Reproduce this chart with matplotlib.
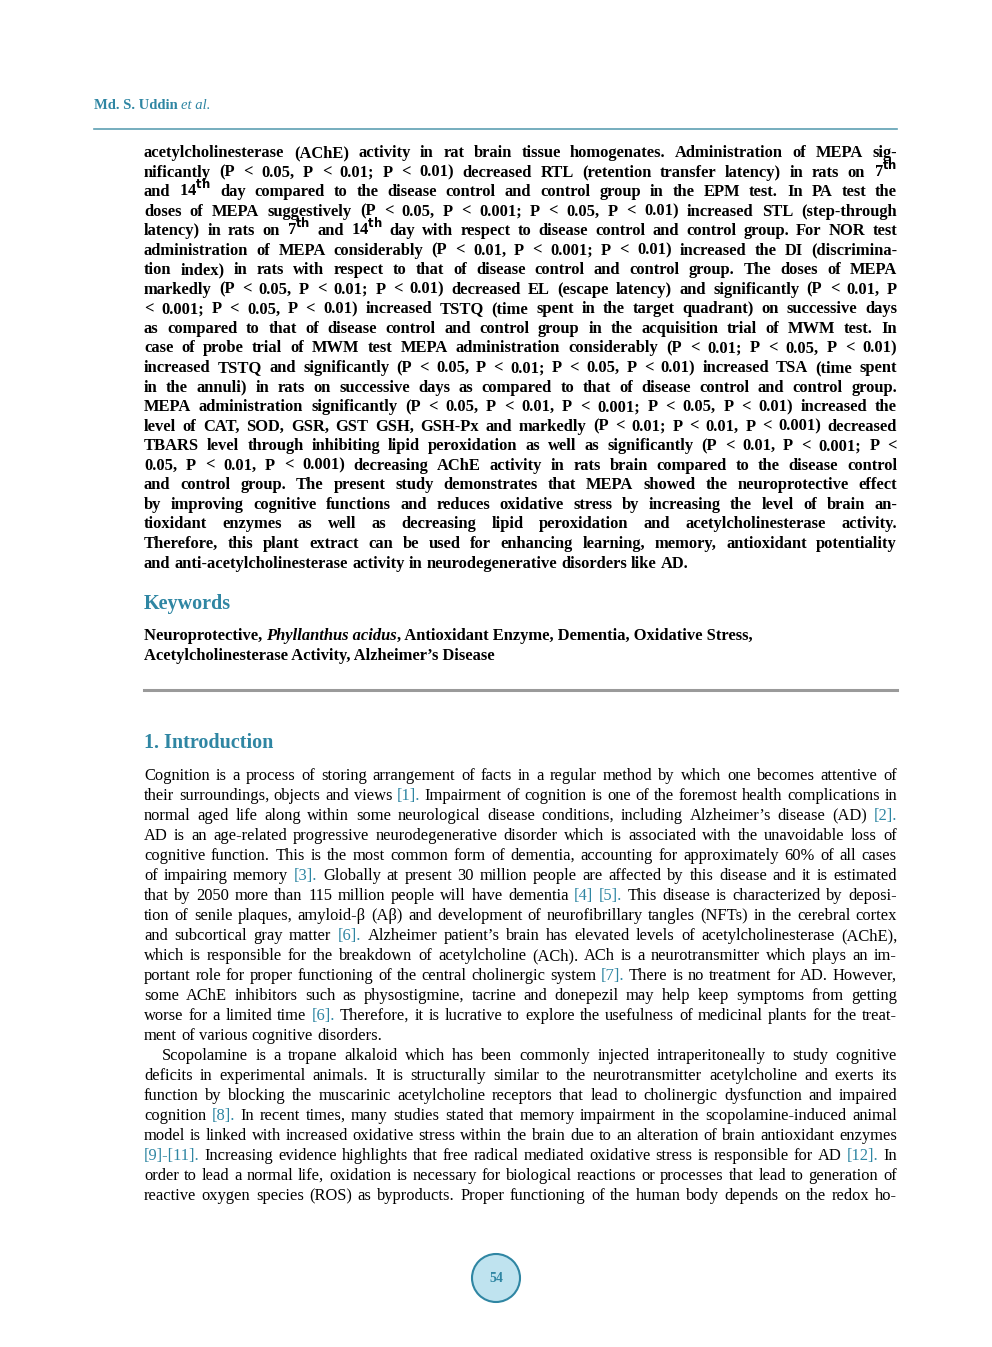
import matplotlib
matplotlib.use("Agg")
from matplotlib import pyplot as plt
from matplotlib.patches import Ellipse

W, H = 992, 1347
TEAL = "#2f86a3"
SERIF = "Liberation Serif"
TH = r"$^{\mathbf{th}}$"

abstract_lines = [
    "acetylcholinesterase (AChE) activity in rat brain tissue homogenates. Administration of MEPA sig-",
    "nificantly (P < 0.05, P < 0.01; P < 0.01) decreased RTL (retention transfer latency) in rats on 7" + TH,
    "and 14" + TH + " day compared to the disease control and control group in the EPM test. In PA test the",
    "doses of MEPA suggestively (P < 0.05, P < 0.001; P < 0.05, P < 0.01) increased STL (step-through",
    "latency) in rats on 7" + TH + " and 14" + TH + " day with respect to disease control and control group. For NOR test",
    "administration of MEPA considerably (P < 0.01, P < 0.001; P < 0.01) increased the DI (discrimina-",
    "tion index) in rats with respect to that of disease control and control group. The doses of MEPA",
    "markedly (P < 0.05, P < 0.01; P < 0.01) decreased EL (escape latency) and significantly (P < 0.01, P",
    "< 0.001; P < 0.05, P < 0.01) increased TSTQ (time spent in the target quadrant) on successive days",
    "as compared to that of disease control and control group in the acquisition trial of MWM test. In",
    "case of probe trial of MWM test MEPA administration considerably (P < 0.01; P < 0.05, P < 0.01)",
    "increased TSTQ and significantly (P < 0.05, P < 0.01; P < 0.05, P < 0.01) increased TSA (time spent",
    "in the annuli) in rats on successive days as compared to that of disease control and control group.",
    "MEPA administration significantly (P < 0.05, P < 0.01, P < 0.001; P < 0.05, P < 0.01) increased the",
    "level of CAT, SOD, GSR, GST GSH, GSH-Px and markedly (P < 0.01; P < 0.01, P < 0.001) decreased",
    "TBARS level through inhibiting lipid peroxidation as well as significantly (P < 0.01, P < 0.001; P <",
    "0.05, P < 0.01, P < 0.001) decreasing AChE activity in rats brain compared to the disease control",
    "and control group. The present study demonstrates that MEPA showed the neuroprotective effect",
    "by improving cognitive functions and reduces oxidative stress by increasing the level of brain an-",
    "tioxidant enzymes as well as decreasing lipid peroxidation and acetylcholinesterase activity.",
    "Therefore, this plant extract can be used for enhancing learning, memory, antioxidant potentiality",
    "and anti-acetylcholinesterase activity in neurodegenerative disorders like AD.",
]

intro_p1 = [
    "Cognition is a process of storing arrangement of facts in a regular method by which one becomes attentive of",
    "their surroundings, objects and views [1]. Impairment of cognition is one of the foremost health complications in",
    "normal aged life along within some neurological disease conditions, including Alzheimer\u2019s disease (AD) [2].",
    "AD is an age-related progressive neurodegenerative disorder which is associated with the unavoidable loss of",
    "cognitive function. This is the most common form of dementia, accounting for approximately 60% of all cases",
    "of impairing memory [3]. Globally at present 30 million people are affected by this disease and it is estimated",
    "that by 2050 more than 115 million people will have dementia [4] [5]. This disease is characterized by deposi-",
    "tion of senile plaques, amyloid-\u03b2 (A\u03b2) and development of neurofibrillary tangles (NFTs) in the cerebral cortex",
    "and subcortical gray matter [6]. Alzheimer patient\u2019s brain has elevated levels of acetylcholinesterase (AChE),",
    "which is responsible for the breakdown of acetylcholine (ACh). ACh is a neurotransmitter which plays an im-",
    "portant role for proper functioning of the central cholinergic system [7]. There is no treatment for AD. However,",
    "some AChE inhibitors such as physostigmine, tacrine and donepezil may help keep symptoms from getting",
    "worse for a limited time [6]. Therefore, it is lucrative to explore the usefulness of medicinal plants for the treat-",
    "ment of various cognitive disorders.",
]

intro_p2 = [
    "Scopolamine is a tropane alkaloid which has been commonly injected intraperitoneally to study cognitive",
    "deficits in experimental animals. It is structurally similar to the neurotransmitter acetylcholine and exerts its",
    "function by blocking the muscarinic acetylcholine receptors that lead to cholinergic dysfunction and impaired",
    "cognition [8]. In recent times, many studies stated that memory impairment in the scopolamine-induced animal",
    "model is linked with increased oxidative stress within the brain due to an alteration of brain antioxidant enzymes",
    "[9]-[11]. Increasing evidence highlights that free radical mediated oxidative stress is responsible for AD [12]. In",
    "order to lead a normal life, oxidation is necessary for biological reactions or processes that lead to generation of",
    "reactive oxygen species (ROS) as byproducts. Proper functioning of the human body depends on the redox ho-",
]

keyword_parts = [
    [("Neuroprotective, ", "normal"), ("Phyllanthus acidus", "italic"),
     (", Antioxidant Enzyme, Dementia, Oxidative Stress,", "normal")],
    [("Acetylcholinesterase Activity, Alzheimer\u2019s Disease", "normal")],
]

fig = plt.figure(figsize=(W / 100, H / 100), dpi=100)
renderer = fig.canvas.get_renderer()


def px(x, y):
    return x / W, 1 - y / H


def put(x, y, s, **kw):
    kw.setdefault("family", SERIF)
    return fig.text(*px(x, y + 5), s, va="baseline", ha="left", **kw)


def justify(line, x0, x1, y, justified=True, **kw):
    words = line.split(" ")
    objs = []
    for w in words:
        color = TEAL if ("[" in w and "]" in w) else "black"
        objs.append(put(x0, y, w, color=color, **kw))
    widths = [o.get_window_extent(renderer).width for o in objs]
    a = put(x0, y, "a a", **kw)
    b = put(x0, y, "aa", **kw)
    sp = a.get_window_extent(renderer).width - b.get_window_extent(renderer).width
    a.remove()
    b.remove()
    if justified and len(words) > 1:
        gap = (x1 - x0 - sum(widths)) / (len(words) - 1)
    else:
        gap = sp
    x = x0
    for o, w in zip(objs, widths):
        o.set_position(px(x, y + 5))
        x += w + gap


def paragraph(lines, x0, x1, y0, step, first_indent=0, last_full=False, **kw):
    for i, line in enumerate(lines):
        xs = x0 + (first_indent if i == 0 else 0)
        full = last_full or i < len(lines) - 1
        justify(line, xs, x1, y0 + i * step, justified=full, **kw)


# header
t = put(94, 104, "Md. S. Uddin ", color=TEAL, fontsize=10.5, fontweight="bold")
wd = t.get_window_extent(renderer).width
put(94 + wd, 104, "et al.", color=TEAL, fontsize=10.5, style="italic")
fig.add_artist(plt.Line2D([94 / W, 897 / W], [1 - 129 / H] * 2, color="#5e9fb3", lw=1.2))

# abstract
paragraph(abstract_lines, 144, 897, 152, 19.55, fontsize=11.9, fontweight="bold")

# keywords
put(144, 604, "Keywords", color=TEAL, fontsize=14.5, fontweight="bold")
for i, parts in enumerate(keyword_parts):
    x = 144
    for s, st in parts:
        o = put(x, 635 + i * 19.5, s, fontsize=11.9, fontweight="bold", style=st)
        x += o.get_window_extent(renderer).width
fig.add_artist(plt.Line2D([144 / W, 897 / W], [1 - 690 / H] * 2, color="#9a9a9a", lw=2.2))

# introduction
put(144, 743, "1. Introduction", color=TEAL, fontsize=14.5, fontweight="bold")
paragraph(intro_p1, 144, 897, 775, 20.0, fontsize=11.9)
paragraph(intro_p2, 144, 897, 1055, 20.0, first_indent=18, last_full=True, fontsize=11.9)

# page number
fig.add_artist(Ellipse((496 / W, 1 - 1278 / H), 48 / W, 48 / H, transform=fig.transFigure,
                       facecolor="#bfe3ef", edgecolor=TEAL, lw=1.5))
fig.text(*px(496, 1279), "54", ha="center", va="center", color=TEAL, fontsize=10,
         family=SERIF, fontweight="bold")

fig.savefig("out.png", dpi=100)
